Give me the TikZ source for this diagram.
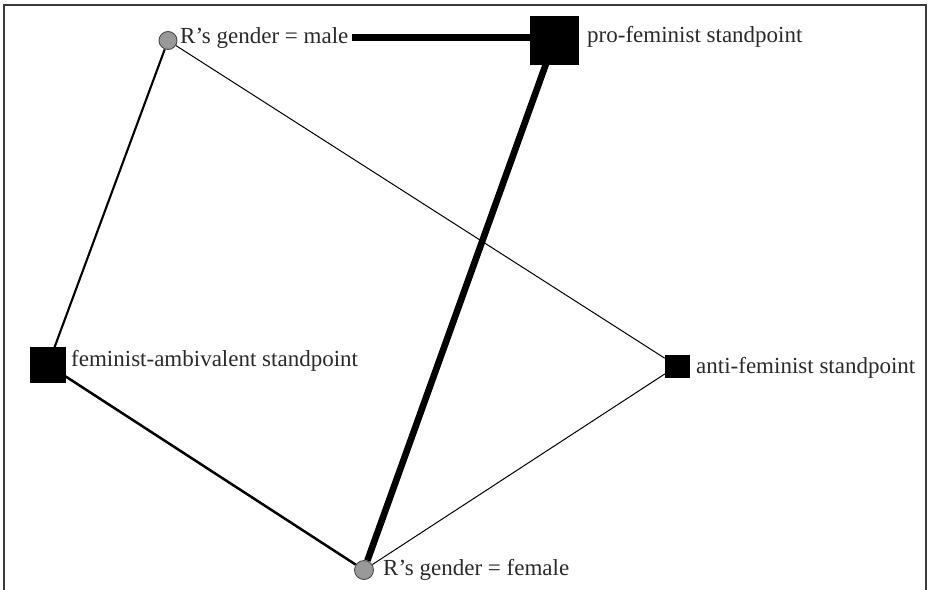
\documentclass[tikz,border=0pt]{standalone}
\usepackage{fontspec}
\setmainfont{Liberation Serif}
\usetikzlibrary{backgrounds}
\definecolor{txt}{HTML}{2A2A2A}
\definecolor{circfill}{HTML}{999999}
\definecolor{circline}{HTML}{4A4A4A}
\definecolor{framecol}{HTML}{3A3A3A}
\tikzset{
  catnode/.style={circle, fill=circfill, draw=circline, line width=0.9pt, minimum size=18pt, inner sep=0pt},
  standnode/.style={rectangle, fill=black, draw=black, line width=0.4pt, inner sep=0pt},
  lab/.style={anchor=base west, inner sep=0pt, text=txt, font=\fontsize{23}{25}\selectfont},
  thinedge/.style={line width=1pt, black},
  midedge/.style={line width=2.1pt, black},
  midedgeb/.style={line width=2.5pt, black},
  thickedge/.style={line width=6.6pt, black},
  frameline/.style={line width=1.3pt, framecol}
}
\begin{document}
\begin{tikzpicture}[x=1pt, y=-1pt]
\useasboundingbox (0,0) rectangle (934,589);
\draw[frameline] (4,620) -- (4,5) -- (926,5) -- (926,620);
% nodes
\node[catnode] (male) at (168,40.5) {};
\node[catnode, minimum size=19pt] (female) at (364,570) {};
\node[standnode, minimum size=48pt] (pro) at (554.5,40) {};
\node[standnode, minimum size=35pt] (amb) at (48,365) {};
\node[standnode, minimum width=24pt, minimum height=22pt] (anti) at (677,366) {};
% labels
\node[lab] (malelab) at (180,43) {R’s gender = male};
\node[lab] (femalelab) at (383,575) {R’s gender = female};
\node[lab] (prolab) at (587,42) {pro-feminist standpoint};
\node[lab] (amblab) at (71,366) {feminist-ambivalent standpoint};
\node[lab] (antilab) at (696,373) {anti-feminist standpoint};
% edges
\begin{scope}[on background layer]
\draw[thickedge, shorten <=3pt] (malelab.east) -- (malelab.east -| pro.west);
\draw[thickedge] (pro) -- (female);
\draw[midedge] (male) -- (amb);
\draw[midedgeb] (amb) -- (female);
\draw[thinedge] (male) -- (anti);
\draw[thinedge] (anti) -- (female);
\end{scope}
\end{tikzpicture}
\end{document}
